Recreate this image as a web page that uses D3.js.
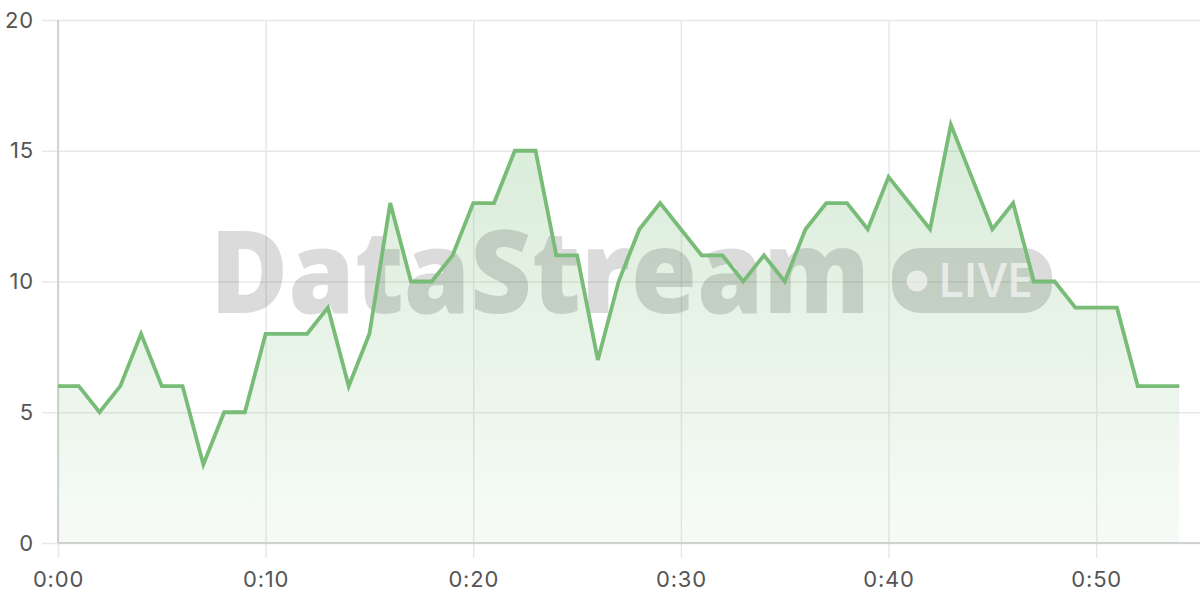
<!DOCTYPE html>
<html>
<head>
<meta charset="utf-8">
<script src="https://cdn.jsdelivr.net/npm/d3@7"></script>
<style>
  body { margin: 0; background: #fff; }
  .axis text { font-family: Inter, "Open Sans", sans-serif; font-size: 22px; fill: #555; letter-spacing: 0.8px; }
  .axis .domain { display: none; }
  .axis line { stroke: #e8e8e8; stroke-width: 1.5; }
</style>
</head>
<body>
<div id="viz-container"></div>
<script>
// minutes since start, one sample per minute
var minutes = d3.range(0, 55);
var counts = [6, 6, 5, 6, 8, 6, 6, 3, 5, 5,
              8, 8, 8, 9, 6, 8, 13, 10, 10, 11,
              13, 13, 15, 15, 11, 11, 7, 10, 12, 13,
              12, 11, 11, 10, 11, 10, 12, 13, 13, 12,
              14, 13, 12, 16, 14, 12, 13, 10, 10, 9,
              9, 9, 6, 6, 6];
var xTicks = [0, 10, 20, 30, 40, 50];
var yTicks = [0, 5, 10, 15, 20];

function init() {
	var data = minutes.map(function(m, i) { return {t: m, v: counts[i]}; });

	var svg = d3.select('#viz-container').append('svg')
		.attr('width', 1200)
		.attr('height', 600);

	var plot = {left: 58, right: 1200, top: 20, bottom: 543};

	var x = d3.scaleLinear().domain([0, 55]).range([plot.left, plot.right]);
	var y = d3.scaleLinear().domain([0, 20]).range([plot.bottom, plot.top]);

	function fmt(m) {
		return Math.floor(m / 60) + ':' + d3.format('02')(m % 60);
	}

	// grid via axes (ticks stick out past the axis lines)
	svg.append('g')
		.attr('class', 'axis')
		.attr('transform', 'translate(42,0)')
		.call(d3.axisLeft(y).tickValues(yTicks).tickSize(-(plot.right - 42)).tickPadding(8));

	svg.append('g')
		.attr('class', 'axis')
		.attr('transform', 'translate(0,558)')
		.call(d3.axisBottom(x).tickValues(xTicks).tickFormat(fmt).tickSize(-(558 - plot.top)).tickPadding(13));

	// axis lines
	svg.append('line')
		.attr('x1', plot.left).attr('x2', plot.left).attr('y1', plot.top).attr('y2', plot.bottom)
		.attr('stroke', '#d2d2d2').attr('stroke-width', 2);
	svg.append('line')
		.attr('x1', plot.left).attr('x2', plot.right).attr('y1', plot.bottom).attr('y2', plot.bottom)
		.attr('stroke', '#d2d2d2').attr('stroke-width', 2);

	var grad = svg.append('defs').append('linearGradient')
		.attr('id', 'fillGrad')
		.attr('gradientUnits', 'userSpaceOnUse')
		.attr('x1', 0).attr('x2', 0)
		.attr('y1', y(20)).attr('y2', y(0));
	grad.append('stop').attr('offset', '0%').attr('stop-color', '#78bc78').attr('stop-opacity', 0.34);
	grad.append('stop').attr('offset', '100%').attr('stop-color', '#78bc78').attr('stop-opacity', 0.06);

	var area = d3.area()
		.x(function(d) { return x(d.t); })
		.y0(y(0))
		.y1(function(d) { return y(d.v); });

	svg.append('path')
		.datum(data)
		.attr('d', area)
		.attr('fill', 'url(#fillGrad)');

	// watermark
	var wm = svg.append('g');
	wm.append('text')
		.attr('x', 210)
		.attr('y', 313)
		.attr('textLength', 660)
		.attr('lengthAdjust', 'spacingAndGlyphs')
		.style('font-family', '"Open Sans", sans-serif')
		.style('font-weight', 800)
		.style('font-size', '116px')
		.attr('fill', '#000')
		.attr('fill-opacity', 0.14)
		.text('DataStream');
	wm.append('rect')
		.attr('x', 892).attr('y', 248)
		.attr('width', 160).attr('height', 65)
		.attr('rx', 28)
		.attr('fill', '#000')
		.attr('fill-opacity', 0.14);
	wm.append('circle')
		.attr('cx', 917).attr('cy', 281).attr('r', 10.5)
		.attr('fill', '#fff').attr('fill-opacity', 0.6);
	wm.append('text')
		.attr('x', 938)
		.attr('y', 297)
		.attr('textLength', 95)
		.attr('lengthAdjust', 'spacingAndGlyphs')
		.style('font-family', '"Open Sans", sans-serif')
		.style('font-weight', 600)
		.style('font-size', '47px')
		.attr('fill', '#fff')
		.attr('fill-opacity', 0.6)
		.text('LIVE');

	var line = d3.line()
		.x(function(d) { return x(d.t); })
		.y(function(d) { return y(d.v); });

	svg.append('path')
		.datum(data)
		.attr('d', line)
		.attr('fill', 'none')
		.attr('stroke', '#78bc78')
		.attr('stroke-width', 3.8)
		.attr('stroke-linejoin', 'miter');
}

init();
</script>
</body>
</html>
